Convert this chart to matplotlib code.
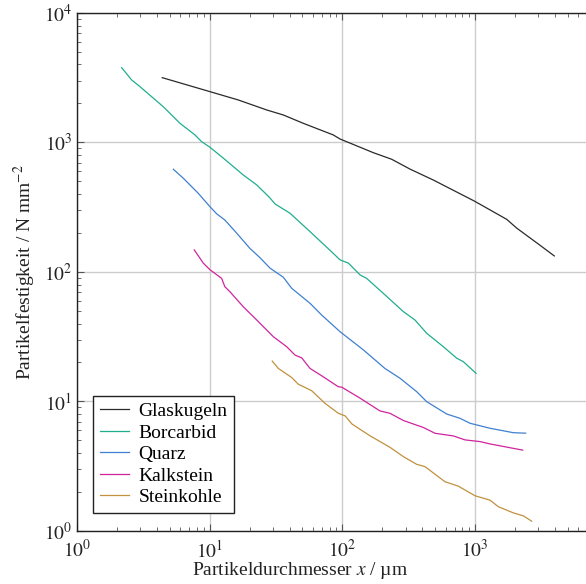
import matplotlib
matplotlib.use("Agg")
import matplotlib.pyplot as plt

plt.rcParams['font.family'] = ['Liberation Serif', 'DejaVu Serif']
plt.rcParams['mathtext.fontset'] = 'stix'

# Partikelfestigkeit ueber Partikeldurchmesser
glas_x = [4.39, 10.05, 16.4, 26.9, 35.9, 50.7, 85.4, 95.9, 171, 235, 323, 484, 986, 1730, 2060, 3080, 3950]
glas_y = [3165, 2468, 2130, 1782, 1630, 1406, 1143, 1064, 834, 742, 623, 513, 353, 255, 218, 161, 133]

bor_x = [2.17, 2.58, 2.98, 4.47, 5.97, 7.75, 8.70, 10.05, 12.7, 17.9, 22.6, 28.1, 31.1, 40.3, 57.0,
         83.0, 95.9, 111, 136, 152, 203, 288, 352, 432, 576, 726, 815, 1016]
bor_y = [3782, 3040, 2700, 1888, 1406, 1143, 1014, 918, 755, 561, 470, 378, 335, 284, 205,
         143, 124, 117, 94.8, 89.4, 68.5, 49.4, 42.6, 33.6, 26.5, 21.6, 20.3, 16.5]

quarz_x = [5.32, 6.32, 8.20, 10.05, 11.3, 13.0, 16.0, 20.1, 23.9, 28.5, 35.9, 41.5, 57.0, 69.8, 95.9,
           144, 209, 272, 363, 432, 611, 770, 915, 1295, 1940, 2405]
quarz_y = [621, 530, 405, 319, 281, 252, 199, 152, 129, 107, 91.0, 74.8, 57.3, 46.5, 34.6,
           25.0, 18.0, 15.1, 11.9, 9.96, 8.00, 7.41, 6.79, 6.21, 5.74, 5.69]

kalk_x = [7.65, 8.95, 10.05, 12.3, 13.0, 14.2, 17.9, 22.6, 30.2, 38.0, 44.0, 49.4, 57.0, 71.8, 93.1,
          98.8, 136, 192, 228, 288, 407, 499, 685, 839, 1089, 1295, 2285]
kalk_y = [148, 117, 104, 89.3, 77.0, 70.4, 53.9, 42.6, 31.6, 26.5, 22.8, 21.7, 18.0, 15.5, 13.0,
          12.9, 10.6, 8.45, 8.11, 7.13, 6.30, 5.68, 5.42, 5.05, 4.90, 4.70, 4.21]

kohle_x = [29.6, 32.9, 41.5, 46.5, 58.7, 73.9, 93.1, 105, 118, 162, 228, 288, 363, 419, 593, 747,
           998, 1295, 1496, 1940, 2306, 2670]
kohle_y = [20.5, 18.0, 15.3, 13.6, 12.1, 9.68, 8.11, 7.73, 6.70, 5.42, 4.43, 3.75, 3.27, 3.14, 2.40, 2.22,
           1.87, 1.73, 1.54, 1.38, 1.31, 1.19]

fig = plt.figure(figsize=(5.86, 5.84), dpi=100)
ax = fig.add_axes([0.1314, 0.0908, 0.9058, 0.887])

ax.plot(glas_x, glas_y, color='#2a2a2a', lw=0.9, label='Glaskugeln')
ax.plot(bor_x, bor_y, color='#1fae8e', lw=0.9, label='Borcarbid')
ax.plot(quarz_x, quarz_y, color='#3f80d0', lw=0.9, label='Quarz')
ax.plot(kalk_x, kalk_y, color='#d0249e', lw=0.9, label='Kalkstein')
ax.plot(kohle_x, kohle_y, color='#c0913e', lw=0.9, label='Steinkohle')

ax.set_xscale('log')
ax.set_yscale('log')
ax.set_xlim(1, 1e4)
ax.set_ylim(1, 1e4)
ax.set_xticks([1, 10, 100, 1000])
ax.set_xticklabels([r'$10^0$', r'$10^1$', r'$10^2$', r'$10^3$'])
ax.set_yticks([1, 10, 100, 1000, 10000])
ax.set_yticklabels([r'$10^0$', r'$10^1$', r'$10^2$', r'$10^3$', r'$10^4$'])

ax.grid(True, which='major', color='#cccccc', lw=1.0)
ax.set_axisbelow(True)
ax.spines['right'].set_visible(False)
for s in ['left', 'bottom', 'top']:
    ax.spines[s].set_color('#222222')
    ax.spines[s].set_linewidth(1.0)

ax.tick_params(which='both', direction='in', top=True, right=False, colors='#555555',
               labelcolor='#222222', labelsize=14)
ax.tick_params(which='major', length=5)
ax.tick_params(which='minor', length=3)
ax.tick_params(axis='x', which='major', pad=6)

ax.set_xlabel(r'Partikeldurchmesser $x$ / µm', fontsize=14, color='#222222')
ax.xaxis.set_label_coords(0.42, -0.057)
ax.set_ylabel(r'Partikelfestigkeit / N mm$^{-2}$', fontsize=14, color='#222222', labelpad=4)

leg = ax.legend(loc='lower left', bbox_to_anchor=(0.030, 0.035), borderaxespad=0, fontsize=14,
                fancybox=False, edgecolor='#222222', framealpha=1, handlelength=1.5,
                handletextpad=0.5, borderpad=0.35, labelspacing=0.2)
leg.get_frame().set_linewidth(1.0)

fig.savefig('out.png', dpi=100)
